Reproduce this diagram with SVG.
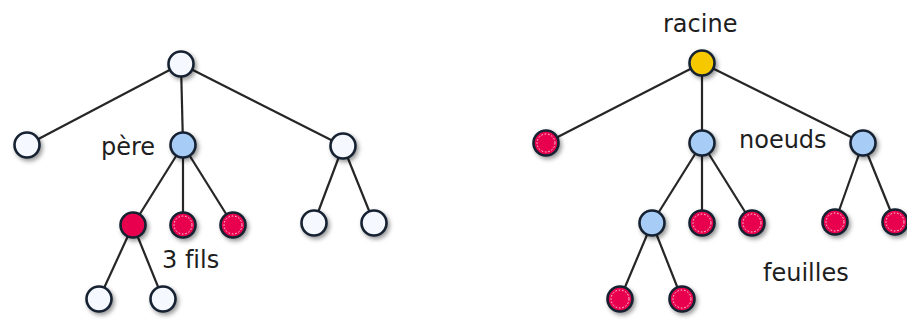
<svg xmlns="http://www.w3.org/2000/svg" width="907" height="320" viewBox="0 0 907 320">
<defs>
<filter id="sh" x="-50%" y="-50%" width="200%" height="200%">
<feDropShadow dx="2" dy="2.5" stdDeviation="2" flood-color="#000" flood-opacity="0.4"/>
</filter>
<style>
.n{stroke:#142030;stroke-width:2.6;filter:url(#sh)}
.w{fill:#f5f9ff}
.b{fill:#a7cdf6}
.y{fill:#f5c800}
.r{fill:#e8064f}
.d{fill:none;stroke:#ffffff;stroke-width:1;stroke-dasharray:1.6 1.8;opacity:0.85}
.e{stroke:#262626;stroke-width:2.2;fill:none}
.t{font-family:"DejaVu Sans",sans-serif;font-size:24px;fill:#1e1e1e;font-variant-ligatures:none}
</style>
</defs>
<rect width="907" height="320" fill="#ffffff"/>
<g id="connectors">
<line class="e" x1="181" y1="64" x2="27" y2="145"/>
<line class="e" x1="181" y1="64" x2="183" y2="145"/>
<line class="e" x1="181" y1="64" x2="343" y2="146"/>
<line class="e" x1="183" y1="145" x2="133" y2="225"/>
<line class="e" x1="183" y1="145" x2="183" y2="225"/>
<line class="e" x1="183" y1="145" x2="233" y2="225"/>
<line class="e" x1="133" y1="225" x2="99" y2="299"/>
<line class="e" x1="133" y1="225" x2="163" y2="299"/>
<line class="e" x1="343" y1="146" x2="314" y2="223"/>
<line class="e" x1="343" y1="146" x2="374" y2="223"/>
<line class="e" x1="702" y1="63" x2="546" y2="143"/>
<line class="e" x1="702" y1="63" x2="702" y2="143"/>
<line class="e" x1="702" y1="63" x2="863" y2="143"/>
<line class="e" x1="702" y1="143" x2="652" y2="223"/>
<line class="e" x1="702" y1="143" x2="702" y2="223"/>
<line class="e" x1="702" y1="143" x2="752" y2="223"/>
<line class="e" x1="652" y1="223" x2="620" y2="299"/>
<line class="e" x1="652" y1="223" x2="682" y2="299"/>
<line class="e" x1="863" y1="143" x2="835" y2="222"/>
<line class="e" x1="863" y1="143" x2="895" y2="222"/>
</g>
<g id="L-root"><circle class="n w" cx="181" cy="64" r="12.5"/></g>
<g id="L-a"><circle class="n w" cx="27" cy="145" r="12.5"/></g>
<g id="L-pere"><circle class="n b" cx="183" cy="145" r="12.5"/></g>
<g id="L-c"><circle class="n w" cx="343" cy="146" r="12.5"/></g>
<g id="L-f1"><circle class="n r" cx="133" cy="225" r="12.5"/></g>
<g id="L-f2"><circle class="n r" cx="183" cy="225" r="12.5"/><circle class="d" cx="183" cy="225" r="9"/></g>
<g id="L-f3"><circle class="n r" cx="233" cy="225" r="12.5"/><circle class="d" cx="233" cy="225" r="9"/></g>
<g id="L-c1"><circle class="n w" cx="314" cy="223" r="12.5"/></g>
<g id="L-c2"><circle class="n w" cx="374" cy="223" r="12.5"/></g>
<g id="L-g1"><circle class="n w" cx="99" cy="299" r="12.5"/></g>
<g id="L-g2"><circle class="n w" cx="163" cy="299" r="12.5"/></g>
<g id="R-root"><circle class="n y" cx="702" cy="63" r="12.5"/></g>
<g id="R-a"><circle class="n r" cx="546" cy="143" r="12.5"/><circle class="d" cx="546" cy="143" r="9"/></g>
<g id="R-b"><circle class="n b" cx="702" cy="143" r="12.5"/></g>
<g id="R-c"><circle class="n b" cx="863" cy="143" r="12.5"/></g>
<g id="R-b1"><circle class="n b" cx="652" cy="223" r="12.5"/></g>
<g id="R-b2"><circle class="n r" cx="702" cy="223" r="12.5"/><circle class="d" cx="702" cy="223" r="9"/></g>
<g id="R-b3"><circle class="n r" cx="752" cy="223" r="12.5"/><circle class="d" cx="752" cy="223" r="9"/></g>
<g id="R-c1"><circle class="n r" cx="835" cy="222" r="12.5"/><circle class="d" cx="835" cy="222" r="9"/></g>
<g id="R-c2"><circle class="n r" cx="895" cy="222" r="12.5"/><circle class="d" cx="895" cy="222" r="9"/></g>
<g id="R-g1"><circle class="n r" cx="620" cy="299" r="12.5"/><circle class="d" cx="620" cy="299" r="9"/></g>
<g id="R-g2"><circle class="n r" cx="682" cy="299" r="12.5"/><circle class="d" cx="682" cy="299" r="9"/></g>
<g id="labels">
<text class="t" x="101" y="155">père</text>
<text class="t" x="162" y="268">3 fils</text>
<text class="t" x="663" y="32">racine</text>
<text class="t" x="739" y="148">noeuds</text>
<text class="t" x="763" y="281">feuilles</text>
</g>
</svg>
